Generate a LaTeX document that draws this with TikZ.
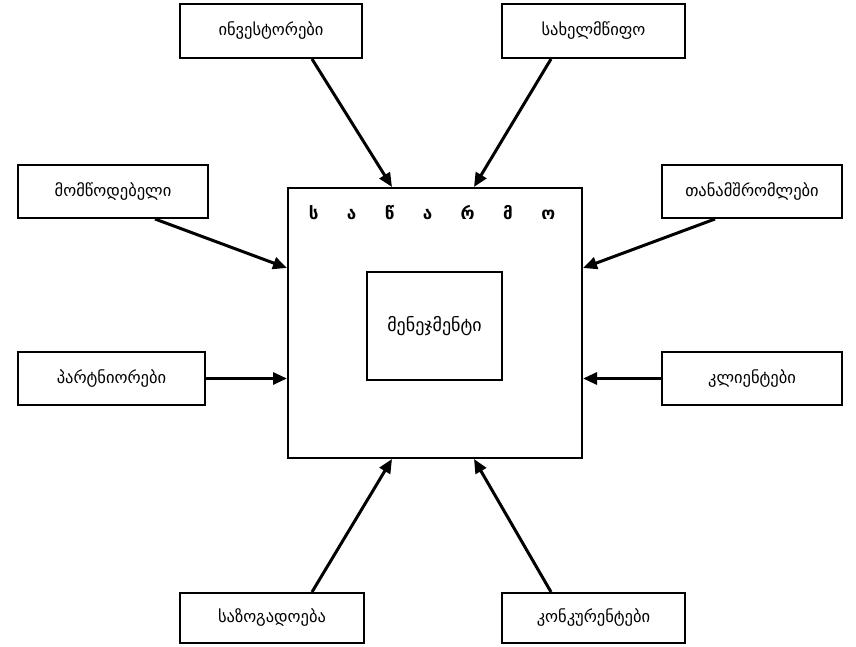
\documentclass[tikz,border=0pt]{standalone}
\usepackage{fontspec}
\setmainfont{DejaVu Sans}
\usetikzlibrary{arrows.meta,calc}
\begin{document}
\begin{tikzpicture}[x=1pt,y=-1pt,
  box/.style={draw, line width=2pt, inner sep=0pt, font=\fontsize{16.5}{19}\selectfont},
  big/.style={draw, line width=2pt, inner sep=0pt},
  arr/.style={line width=3pt, -{Triangle[length=14pt,width=12pt]}}]
\useasboundingbox (0,0) rectangle (856,647);
% main box and inner box
\node[big, minimum width=294pt, minimum height=270pt] (main) at (435,323) {};
\node[box, minimum width=135pt, minimum height=108pt, font=\fontsize{18}{20}\selectfont] (mgmt) at (434.5,326) {მენეჯმენტი};
\node[font=\bfseries\fontsize{17}{19}\selectfont, inner sep=0pt] (title) at (432,213)
  {ს\hspace{28.5pt}ა\hspace{28.5pt}წ\hspace{28.5pt}ა\hspace{28.5pt}რ\hspace{28.5pt}მ\hspace{28.5pt}ო};
% stakeholder boxes
\node[box, minimum width=182pt, minimum height=54pt] (inv) at (271,31) {ინვესტორები};
\node[box, minimum width=183pt, minimum height=54pt] (gov) at (593.5,31) {სახელმწიფო};
\node[box, minimum width=190pt, minimum height=53pt] (sup) at (113,191.5) {მომწოდებელი};
\node[box, minimum width=180pt, minimum height=53pt] (emp) at (752,191.5) {თანამშრომლები};
\node[box, minimum width=187pt, minimum height=53pt] (part) at (111.5,378.5) {პარტნიორები};
\node[box, minimum width=180pt, minimum height=53pt] (cli) at (752,378.5) {კლიენტები};
\node[box, minimum width=184pt, minimum height=50pt] (soc) at (272,618) {საზოგადოება};
\node[box, minimum width=183pt, minimum height=50pt] (comp) at (593.5,618) {კონკურენტები};
% arrows
\draw[arr] ([xshift=41pt]inv.south) -- ([xshift=-43pt]main.north);
\draw[arr] ([xshift=-42.5pt]gov.south) -- ([xshift=39pt]main.north);
\draw[arr] ([xshift=42pt]sup.south) -- ([yshift=55pt]main.west);
\draw[arr] ([xshift=-37pt]emp.south) -- ([yshift=55pt]main.east);
\draw[arr] (part.east) -- (part.east -| main.west);
\draw[arr] (cli.west) -- (cli.west -| main.east);
\draw[arr] ([xshift=40pt]soc.north) -- ([xshift=-43pt]main.south);
\draw[arr] ([xshift=-42.5pt]comp.north) -- ([xshift=39pt]main.south);
\end{tikzpicture}
\end{document}
